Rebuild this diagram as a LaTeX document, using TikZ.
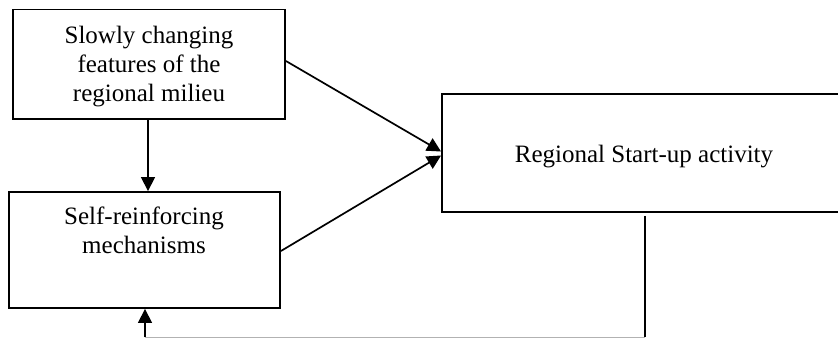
\documentclass[tikz,border=0pt]{standalone}
\usepackage{fontspec}
\setmainfont{Liberation Serif}
\usetikzlibrary{arrows.meta,calc}
\begin{document}
\begin{tikzpicture}[x=1pt,y=-1pt,
  box/.style={draw,line width=1.9pt,rectangle,inner sep=0pt},
  boxtext/.style={font=\fontsize{25}{29}\selectfont,align=center,inner sep=0pt},
  link/.style={line width=1.7pt,-{Triangle[length=14pt,width=14pt]}},
  feedback/.style={line width=1.8pt},
  returnline/.style={line width=1.1pt,draw=black!30},
]
\useasboundingbox (0,0) rectangle (838,338);

% boxes
\node[box,minimum width=272pt,minimum height=109.5pt] (b1) at (149,64.25) {};
\node[box,minimum width=271pt,minimum height=116pt] (b2) at (144.5,250) {};
\node[box,minimum width=404pt,minimum height=118pt] (b3) at (644,153) {};

% box texts (base anchor sits on the last line)
\node[boxtext,anchor=base] (t1) at (149,101) {Slowly changing\\features of the\\regional milieu};
\node[boxtext,anchor=base] (t2) at (144,253) {Self-reinforcing\\mechanisms};
\node[boxtext,anchor=base] (t3) at (644,162) {Regional Start-up activity};

% connector end points
\coordinate (s1) at (b1.east |- 0,61);
\coordinate (e1) at (b3.west |- 0,151.5);
\coordinate (s2) at (b2.east |- 0,251);
\coordinate (e2) at (b3.west |- 0,155.5);
\coordinate (fb0) at ($(b3.south)+(1,3)$);
\coordinate (fb1) at (645,337.3);
\coordinate (fb2) at (145,337.3);

% influences on start-up activity
\draw[link] (s1) -- (e1);
\draw[link] (s2) -- (e2);
\draw[link] (b1.south -| 148,0) -- (b2.north -| 148,0);

% feedback loop
\draw[feedback] (fb0) -- (fb1);
\draw[returnline] (fb1) -- (fb2);
\draw[link] (fb2) -- (b2.south -| fb2);
\end{tikzpicture}
\end{document}
